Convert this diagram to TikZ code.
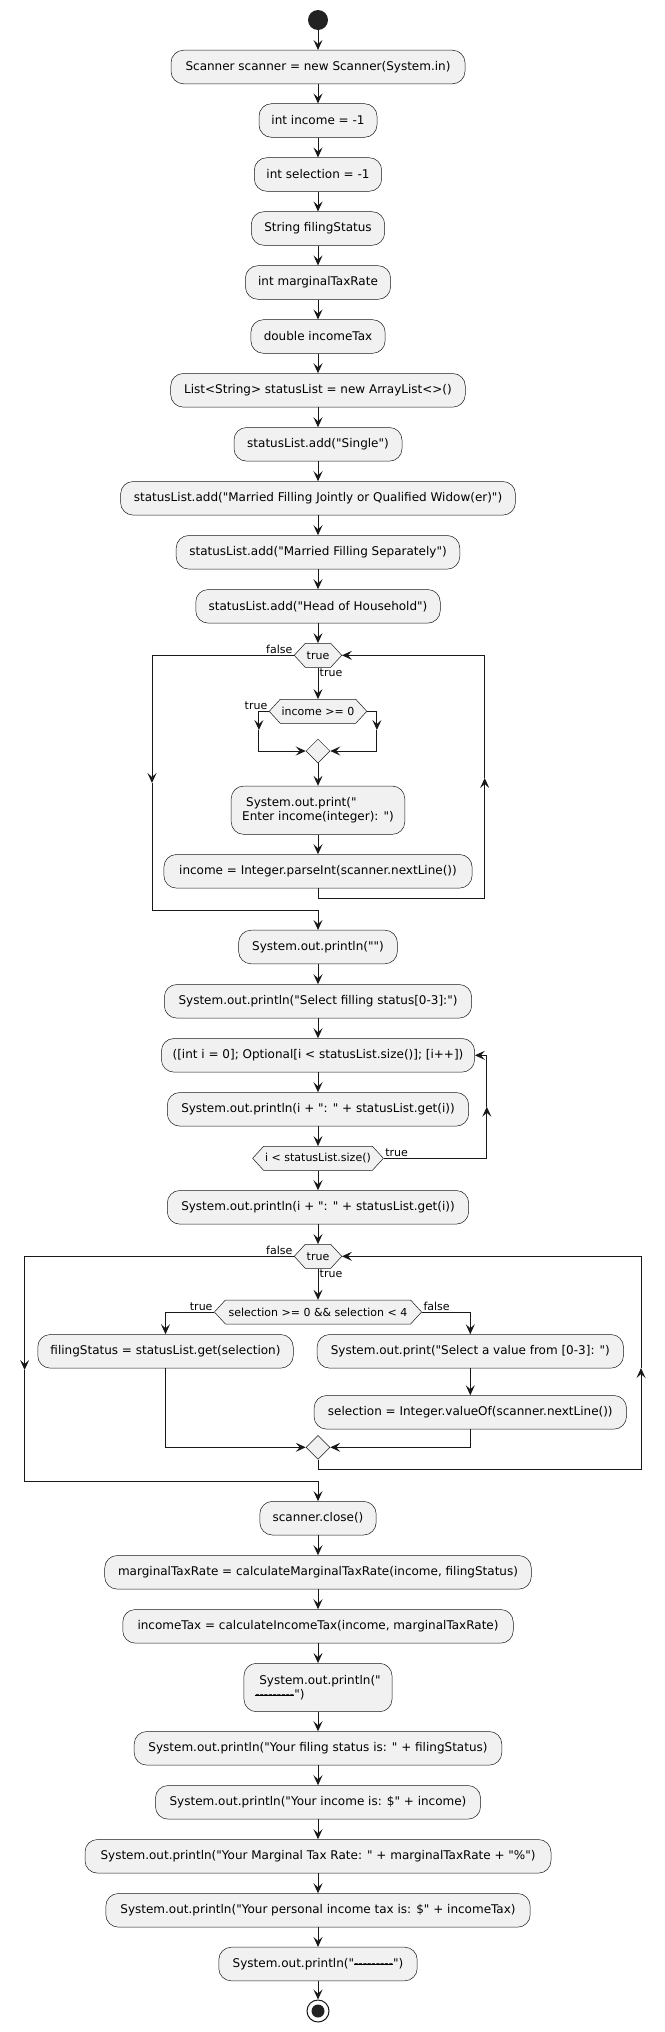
\documentclass[tikz,border=0pt]{standalone}
\usepackage{fontspec}
\setmainfont{DejaVu Sans}[Ligatures=TeXOff]
\usetikzlibrary{arrows.meta,shapes.geometric}
\definecolor{lc}{HTML}{181818}
\definecolor{bg}{HTML}{F1F1F1}
\definecolor{dotc}{HTML}{222222}
\newcommand{\hyphrow}{\rlap{\rule[2.9pt]{39pt}{0.6pt}}-{}-{}-{}-{}-{}-{}-{}-{}-}
\newcommand{\hexat}[5]{%
  \filldraw[hexshape] ({#2-#4},#3) -- ({#2-#4+11},{#3-12}) -- ({#2+#4-11},{#3-12}) -- ({#2+#4},#3) -- ({#2+#4-11},{#3+12}) -- ({#2-#4+11},{#3+12}) -- cycle;
  \node[hextext, minimum width={2*#4}] (#1) at (#2,#3) {#5};}
\tikzset{
  box/.style={draw=lc, line width=0.5pt, fill=bg, rounded corners=12.5pt, minimum height=33.6pt, inner sep=0pt, font=\fontsize{12}{14}\selectfont},
  hexshape/.style={draw=lc, line width=0.5pt, fill=bg},
  hextext/.style={minimum height=24pt, inner sep=0pt, font=\fontsize{11}{13}\selectfont},
  merge/.style={shape=diamond, draw=lc, line width=0.5pt, fill=bg, minimum width=24pt, minimum height=24pt, inner sep=0pt},
  lbl/.style={font=\fontsize{11}{13}\selectfont, inner sep=1.5pt},
  ln/.style={draw=lc, line width=1pt},
  arr/.style={draw=lc, line width=1pt, -{Stealth[length=10pt,width=9pt,inset=4pt]}}
}
\begin{document}
\begin{tikzpicture}[x=1pt,y=-1pt]
\useasboundingbox (0,0) rectangle (664,2032);
% start
\node[circle, fill=dotc, minimum size=20pt, inner sep=0pt] (start) at (318,20) {};
\node[box, minimum width=294] (b1) at (318,67) {Scanner scanner = new Scanner(System.in)};
\node[box, minimum width=118] (b2) at (318,120.5) {int income = -1};
\node[box, minimum width=127.4] (b3) at (318,174.5) {int selection = -1};
\node[box, minimum width=133.3] (b4) at (318,228.5) {String filingStatus};
\node[box, minimum width=145.2] (b5) at (318,282.5) {int marginalTaxRate};
\node[box, minimum width=134.2] (b6) at (318,336.5) {double incomeTax};
\node[box, minimum width=294.6] (b7) at (318,390.3) {List<String> statusList = new ArrayList<>()};
\node[box, minimum width=168] (b8) at (318,444.3) {statusList.add("Single")};
\node[box, minimum width=394.8] (b9) at (318,498.3) {statusList.add("Married Filling Jointly or Qualified Widow(er)")};
\node[box, minimum width=283.6] (b10) at (318,552.3) {statusList.add("Married Filling Separately")};
\node[box, minimum width=244.5] (b11) at (318,606.3) {statusList.add("Head of Household")};
\hexat{h1}{318}{655.3}{23.75}{true}
\hexat{h2}{318}{711.3}{48.8}{income >= 0}
\node[merge] (d1) at (318,751) {};
\node[box, minimum width=173.6, minimum height=48.3, align=left] (b12) at (318,810.2) {\hspace*{4pt}System.out.print("\\Enter income(integer): ")};
\node[box, minimum width=308.2] (b13) at (318,871.3) {income = Integer.parseInt(scanner.nextLine())};
\node[box, minimum width=158.8] (b14) at (318,947) {System.out.println("")};
\node[box, minimum width=307.3] (b15) at (318,1001.3) {System.out.println("Select filling status[0-3]:")};
\node[box, minimum width=313.2] (b16) at (318,1055.3) {([int i = 0]; Optional[i < statusList.size()]; [i++])};
\node[box, minimum width=301.4] (b17) at (318,1109.3) {System.out.println(i + ": " + statusList.get(i))};
\hexat{h3}{318}{1158.3}{65.4}{i < statusList.size()}
\node[box, minimum width=301.4] (b18) at (318,1207.3) {System.out.println(i + ": " + statusList.get(i))};
\hexat{h4}{318}{1256.3}{23.75}{true}
\hexat{h5}{318}{1312}{103.6}{selection >= 0 \&\& selection < 4}
\node[box, minimum width=255.5] (b19) at (165.5,1351.3) {filingStatus = statusList.get(selection)};
\node[box, minimum width=306.4] (b20) at (470.3,1351.3) {System.out.print("Select a value from [0-3]: ")};
\node[box, minimum width=312.4] (b21) at (470.3,1412.3) {selection = Integer.valueOf(scanner.nextLine())};
\node[merge] (d2) at (318,1447.3) {};
\node[box, minimum width=116.3] (b22) at (318,1518.2) {scanner.close()};
\node[box, minimum width=426.6] (b23) at (318,1572.3) {marginalTaxRate = calculateMarginalTaxRate(income, filingStatus)};
\node[box, minimum width=390.5] (b24) at (318,1626.3) {incomeTax = calculateIncomeTax(income, marginalTaxRate)};
\node[box, minimum width=148.1, minimum height=48.4, align=left] (b25) at (318,1687.5) {\hspace*{4pt}System.out.println("\\\hyphrow")};
\node[box, minimum width=367.6] (b26) at (318,1748.3) {System.out.println("Your filing status is: " + filingStatus)};
\node[box, minimum width=325.1] (b27) at (318,1802.3) {System.out.println("Your income is: \$" + income)};
\node[box, minimum width=466] (b28) at (318,1856.3) {System.out.println("Your Marginal Tax Rate: " + marginalTaxRate + "\%")};
\node[box, minimum width=424.4] (b29) at (318,1910.3) {System.out.println("Your personal income tax is: \$" + incomeTax)};
\node[box, minimum width=198.4] (b30) at (318,1964) {System.out.println("\hyphrow")};
\node[circle, draw=lc, line width=1pt, fill=white, minimum size=22pt, inner sep=0pt] (stop) at (318,2011) {};
\fill[dotc] (stop.center) circle (6.5pt);
% straight connectors
\draw[arr] (start) -- (b1);
\foreach \a/\b in {b1/b2,b2/b3,b3/b4,b4/b5,b5/b6,b6/b7,b7/b8,b8/b9,b9/b10,b10/b11,b12/b13,b14/b15,b15/b16,b16/b17,b18/h4,b20/b21,b22/b23,b23/b24,b24/b25,b25/b26,b26/b27,b27/b28,b28/b29,b29/b30}
  \draw[arr] (\a.south) -- (\b.north);
\draw[arr] (b11.south) -- (h1.north);
\draw[arr] (h1.south) -- (h2.north);
\draw[arr] (d1.south) -- (b12.north);
\draw[arr] (b17.south) -- (h3.north);
\draw[arr] (h3.south) -- (b18.north);
\draw[arr] (h4.south) -- (h5.north);
\draw[arr] (b30.south) -- (stop.north);
% loop 1: income >= 0 branches
\coordinate (l2a) at (258.9,711.3); \coordinate (l2b) at (258.9,730); \coordinate (l2c) at (258.9,751);
\coordinate (r2a) at (376.9,711.3); \coordinate (r2b) at (376.9,730); \coordinate (r2c) at (376.9,751);
\draw[arr] (h2.west) -- (l2a) -- (l2b);
\draw[arr] (l2b) -- (l2c) -- (d1.west);
\draw[arr] (h2.east) -- (r2a) -- (r2b);
\draw[arr] (r2b) -- (r2c) -- (d1.east);
% loop 1 back
\coordinate (k1) at (318,898); \coordinate (k2) at (484.7,898); \coordinate (k3) at (484.7,778); \coordinate (k4) at (484.7,655.3);
\draw[arr] (b13.south) -- (k1) -- (k2) -- (k3);
\draw[arr] (k3) -- (k4) -- (h1.east);
% loop 1 exit
\coordinate (f1) at (152,655.3); \coordinate (f2) at (152,783); \coordinate (f3) at (152,910); \coordinate (f4) at (318,910);
\draw[arr] (h1.west) -- (f1) -- (f2);
\draw[arr] (f2) -- (f3) -- (f4) -- (b14.north);
% for loop back
\coordinate (g1) at (486.8,1158.3); \coordinate (g2) at (486.8,1106.7); \coordinate (g3) at (486.8,1055.3);
\draw[arr] (h3.east) -- (g1) -- (g2);
\draw[arr] (g2) -- (g3) -- (b16.east);
% selection branches
\coordinate (s1) at (165.5,1312); \coordinate (s2) at (470.3,1312);
\draw[arr] (h5.west) -- (s1) -- (b19.north);
\draw[arr] (h5.east) -- (s2) -- (b20.north);
\coordinate (m1) at (165.5,1447.3); \coordinate (m2) at (470.3,1447.3);
\draw[arr] (b19.south) -- (m1) -- (d2.west);
\draw[arr] (b21.south) -- (m2) -- (d2.east);
% loop 2 back
\coordinate (p1) at (318,1469); \coordinate (p2) at (641,1469); \coordinate (p3) at (641,1368); \coordinate (p4) at (641,1256.3);
\draw[arr] (d2.south) -- (p1) -- (p2) -- (p3);
\draw[arr] (p3) -- (p4) -- (h4.east);
% loop 2 exit
\coordinate (q1) at (24.6,1256.3); \coordinate (q2) at (24.6,1370); \coordinate (q3) at (24.6,1481.3); \coordinate (q4) at (318,1481.3);
\draw[arr] (h4.west) -- (q1) -- (q2);
\draw[arr] (q2) -- (q3) -- (q4) -- (b22.north);
% labels
\node[lbl, anchor=south east] at (h1.west) {false};
\node[lbl, anchor=north west] at (h1.south) {true};
\node[lbl, anchor=south east] at (h2.west) {true};
\node[lbl, anchor=south west] at (h3.east) {true};
\node[lbl, anchor=south east] at (h4.west) {false};
\node[lbl, anchor=north west] at (h4.south) {true};
\node[lbl, anchor=south east] at (h5.west) {true};
\node[lbl, anchor=south west] at (h5.east) {false};
\end{tikzpicture}
\end{document}
